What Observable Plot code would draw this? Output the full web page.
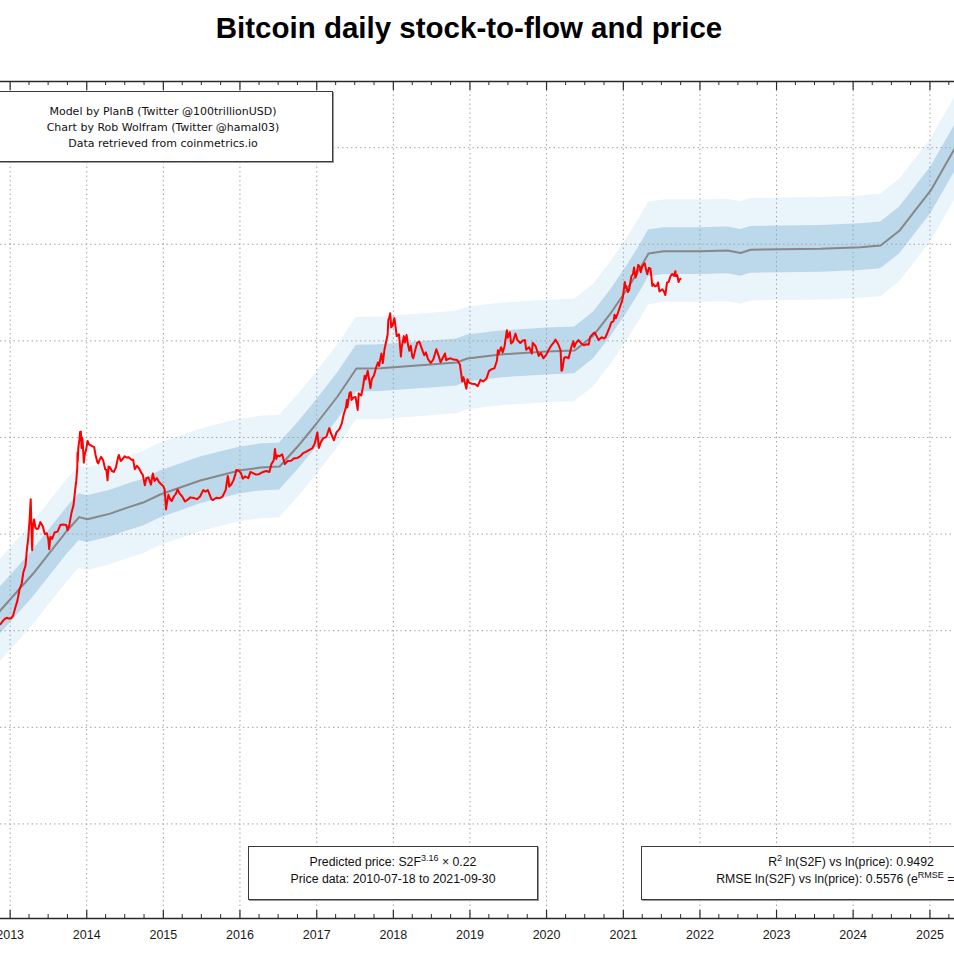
<!DOCTYPE html>
<html>
<head>
<meta charset="utf-8">
<title>Bitcoin daily stock-to-flow and price</title>
<script src="https://cdn.jsdelivr.net/npm/d3@7"></script>
<script src="https://cdn.jsdelivr.net/npm/@observablehq/plot@0.6"></script>
<style>
  html, body { margin: 0; padding: 0; background: #fff; overflow: hidden; }
  #page { position: relative; width: 954px; height: 954px; overflow: hidden; }
  #title {
    height: 56px; box-sizing: border-box; padding-top: 13px; width: 938px;
    text-align: center; font: bold 29.5px "Liberation Sans", Arial, sans-serif;
    line-height: 30px; color: #000;
  }
  .box {
    position: absolute; background: #fff; border: 1px solid #3a3a3a;
    box-shadow: 1px 1px 0 #9a9a9a; box-sizing: border-box;
    text-align: center; white-space: nowrap; color: #111;
  }
  .box sup { font-size: 9px; line-height: 0; vertical-align: 0.6em; }
  #credits { left: -7px; top: 91px; width: 340px; height: 71px; padding-top: 12px;
    font: 11px "DejaVu Sans", sans-serif; line-height: 16px; }
  #formula { left: 248px; top: 846px; width: 290px; height: 54px; padding-top: 7px;
    font: 12.3px "Liberation Sans", Arial, sans-serif; line-height: 17px; }
  #fit { left: 641px; top: 846px; width: 420px; height: 54px; padding-top: 7px;
    font: 12.3px "Liberation Sans", Arial, sans-serif; line-height: 17px; }
</style>
</head>
<body>
<div id="page">
  <div id="title">Bitcoin daily stock-to-flow and price</div>
  <div id="chart"></div>
  <div class="box" id="credits">
    Model by PlanB (Twitter @100trillionUSD)<br>
    Chart by Rob Wolfram (Twitter @hamal03)<br>
    Data retrieved from coinmetrics.io
  </div>
  <div class="box" id="formula">
    Predicted price: S2F<sup>3.16</sup> × 0.22<br>
    Price data: 2010-07-18 to 2021-09-30
  </div>
  <div class="box" id="fit">
    R<sup>2</sup> ln(S2F) vs ln(price): 0.9492<br>
    RMSE ln(S2F) vs ln(price): 0.5576 (e<sup>RMSE</sup> = 1.75)
  </div>
</div>
<script>
// Year labels on the time axis
const years = [2013, 2014, 2015, 2016, 2017, 2018, 2019, 2020, 2021, 2022, 2023, 2024, 2025];
// Horizontal grid lines, one per decade of price (USD)
const priceDecades = [0.1, 1, 10, 100, 1000, 10000, 100000, 1000000];
// Visible window of the time and price axes
const timeWindow = ["2012-11-16", "2025-04-28"];
const priceWindow = [0.0105, 4.84e6];

// Fit statistics: the inner band is model × e^(±RMSE), the outer band is wider
const RMSE = 0.5576;
const OUTER_BAND = 1.22;

// Stock-to-flow model price (USD)
const modelSeries = [
  ["2012-11-01", 14.6], ["2012-11-15", 16.2], ["2013-04-21", 39.1], ["2013-09-30", 109],
  ["2013-11-26", 150], ["2014-01-04", 142.6], ["2014-04-23", 163], ["2014-07-13", 188],
  ["2014-09-27", 212], ["2014-12-17", 257], ["2015-06-26", 359], ["2015-12-29", 455],
  ["2016-04-08", 489], ["2016-07-08", 501], ["2016-10-06", 826], ["2016-12-31", 1396],
  ["2017-04-10", 2656], ["2017-07-09", 5174], ["2017-11-01", 5212], ["2018-06-27", 5696],
  ["2018-10-29", 5975], ["2018-12-20", 6570], ["2019-05-26", 7230], ["2020-01-01", 7766],
  ["2020-05-14", 7961], ["2020-08-12", 11380], ["2020-11-01", 19230], ["2021-01-21", 34860],
  ["2021-03-24", 57500], ["2021-05-01", 80350], ["2021-07-12", 84900], ["2022-01-04", 84900],
  ["2022-05-13", 86300], ["2022-07-14", 81300], ["2022-08-30", 87700], ["2023-07-30", 89800],
  ["2024-02-05", 93300], ["2024-05-11", 97200], ["2024-08-10", 139000], ["2024-10-30", 235000],
  ["2025-01-05", 360700], ["2025-03-22", 703000], ["2025-04-29", 982000], ["2025-05-20", 1250000]
];

// Daily closing price (USD), sampled
const priceSeries = [
  ["2012-11-16", 11.7], ["2012-11-25", 12.4], ["2012-12-05", 13.2], ["2012-12-15", 13.6],
  ["2012-12-25", 13.4], ["2013-01-05", 13.4], ["2013-01-15", 14.3], ["2013-01-25", 17.2],
  ["2013-02-05", 20.6], ["2013-02-15", 27.0], ["2013-02-25", 30.8], ["2013-03-05", 40.3],
  ["2013-03-15", 47.0], ["2013-03-22", 70], ["2013-03-28", 89], ["2013-04-03", 135],
  ["2013-04-09", 230], ["2013-04-11", 160], ["2013-04-13", 98], ["2013-04-16", 68],
  ["2013-04-19", 119], ["2013-04-25", 142], ["2013-05-01", 117], ["2013-05-08", 113],
  ["2013-05-15", 114], ["2013-05-25", 133], ["2013-06-05", 121], ["2013-06-15", 100],
  ["2013-06-25", 102], ["2013-07-02", 88], ["2013-07-06", 70], ["2013-07-12", 94],
  ["2013-07-20", 89], ["2013-08-01", 104], ["2013-08-15", 106], ["2013-08-28", 124],
  ["2013-09-10", 126], ["2013-09-25", 124], ["2013-10-02", 110], ["2013-10-10", 124],
  ["2013-10-20", 165], ["2013-10-30", 200], ["2013-11-07", 290], ["2013-11-12", 355],
  ["2013-11-17", 490], ["2013-11-18", 700], ["2013-11-19", 560], ["2013-11-22", 790],
  ["2013-11-27", 950], ["2013-11-30", 1140], ["2013-12-04", 1150], ["2013-12-07", 780],
  ["2013-12-10", 1000], ["2013-12-13", 880], ["2013-12-18", 550], ["2013-12-22", 660],
  ["2013-12-29", 750], ["2014-01-05", 920], ["2014-01-12", 850], ["2014-01-20", 830],
  ["2014-01-28", 810], ["2014-02-05", 800], ["2014-02-12", 660], ["2014-02-20", 560],
  ["2014-02-25", 540], ["2014-03-02", 580], ["2014-03-10", 630], ["2014-03-20", 580],
  ["2014-03-30", 470], ["2014-04-05", 460], ["2014-04-10", 360], ["2014-04-15", 500],
  ["2014-04-22", 490], ["2014-05-01", 450], ["2014-05-10", 440], ["2014-05-20", 490],
  ["2014-05-30", 620], ["2014-06-03", 660], ["2014-06-12", 570], ["2014-06-20", 595],
  ["2014-07-01", 640], ["2014-07-10", 620], ["2014-07-20", 625], ["2014-08-01", 590],
  ["2014-08-10", 590], ["2014-08-18", 470], ["2014-08-28", 510], ["2014-09-08", 475],
  ["2014-09-18", 430], ["2014-09-25", 410], ["2014-10-05", 320], ["2014-10-12", 380],
  ["2014-10-22", 385], ["2014-11-03", 325], ["2014-11-12", 425], ["2014-11-20", 355],
  ["2014-12-01", 380], ["2014-12-10", 350], ["2014-12-20", 330], ["2014-12-31", 315],
  ["2015-01-07", 290], ["2015-01-14", 180], ["2015-01-18", 210], ["2015-01-25", 255],
  ["2015-02-02", 230], ["2015-02-10", 220], ["2015-02-20", 245], ["2015-03-01", 260],
  ["2015-03-10", 290], ["2015-03-20", 262], ["2015-04-01", 245], ["2015-04-14", 218],
  ["2015-04-25", 225], ["2015-05-10", 240], ["2015-05-25", 237], ["2015-06-10", 230],
  ["2015-06-25", 245], ["2015-07-10", 285], ["2015-07-20", 275], ["2015-08-01", 285],
  ["2015-08-18", 230], ["2015-08-25", 225], ["2015-09-10", 238], ["2015-09-25", 235],
  ["2015-10-10", 245], ["2015-10-25", 285], ["2015-11-04", 400], ["2015-11-07", 375],
  ["2015-11-11", 310], ["2015-11-20", 325], ["2015-12-01", 360], ["2015-12-10", 415],
  ["2015-12-15", 460], ["2015-12-25", 455], ["2016-01-05", 430], ["2016-01-15", 375],
  ["2016-01-25", 395], ["2016-02-10", 380], ["2016-02-20", 440], ["2016-03-01", 430],
  ["2016-03-15", 415], ["2016-04-01", 417], ["2016-04-20", 440], ["2016-05-05", 450],
  ["2016-05-20", 440], ["2016-05-30", 530], ["2016-06-10", 580], ["2016-06-16", 760],
  ["2016-06-22", 600], ["2016-06-28", 650], ["2016-07-08", 640], ["2016-07-20", 670],
  ["2016-08-02", 530], ["2016-08-15", 570], ["2016-09-01", 575], ["2016-09-15", 610],
  ["2016-10-01", 615], ["2016-10-15", 640], ["2016-10-28", 690], ["2016-11-10", 710],
  ["2016-11-25", 740], ["2016-12-10", 770], ["2016-12-22", 860], ["2017-01-04", 1130],
  ["2017-01-11", 780], ["2017-01-20", 890], ["2017-02-01", 985], ["2017-02-15", 1010],
  ["2017-03-02", 1250], ["2017-03-10", 1100], ["2017-03-24", 935], ["2017-04-05", 1130],
  ["2017-04-20", 1230], ["2017-05-01", 1420], ["2017-05-10", 1750], ["2017-05-20", 2050],
  ["2017-05-25", 2450], ["2017-05-27", 2050], ["2017-06-06", 2870], ["2017-06-12", 2950],
  ["2017-06-16", 2450], ["2017-06-25", 2600], ["2017-07-05", 2620], ["2017-07-15", 1930],
  ["2017-07-20", 2850], ["2017-08-01", 2720], ["2017-08-10", 3400], ["2017-08-17", 4350],
  ["2017-08-22", 4000], ["2017-09-01", 4900], ["2017-09-14", 3250], ["2017-09-20", 4000],
  ["2017-10-01", 4400], ["2017-10-12", 5400], ["2017-10-20", 6000], ["2017-10-25", 5500],
  ["2017-11-05", 7400], ["2017-11-12", 5900], ["2017-11-20", 8200], ["2017-11-28", 9900],
  ["2017-12-05", 11700], ["2017-12-08", 16500], ["2017-12-12", 17200], ["2017-12-17", 19300],
  ["2017-12-22", 13800], ["2017-12-28", 14400], ["2018-01-06", 17200], ["2018-01-12", 13800],
  ["2018-01-17", 11200], ["2018-01-28", 11700], ["2018-02-06", 6900], ["2018-02-10", 8600],
  ["2018-02-20", 11200], ["2018-02-25", 9600], ["2018-03-05", 11500], ["2018-03-12", 9100],
  ["2018-03-18", 7900], ["2018-03-25", 8900], ["2018-04-01", 6900], ["2018-04-06", 6600],
  ["2018-04-15", 8000], ["2018-04-25", 9600], ["2018-05-05", 9800], ["2018-05-15", 8500],
  ["2018-05-28", 7100], ["2018-06-05", 7600], ["2018-06-15", 6500], ["2018-06-28", 5900],
  ["2018-07-10", 6400], ["2018-07-25", 8200], ["2018-08-05", 7000], ["2018-08-14", 6000],
  ["2018-08-25", 6700], ["2018-09-04", 7400], ["2018-09-10", 6300], ["2018-09-20", 6500],
  ["2018-10-01", 6600], ["2018-10-15", 6400], ["2018-11-01", 6350], ["2018-11-14", 5700],
  ["2018-11-20", 4600], ["2018-11-25", 3800], ["2018-12-01", 4200], ["2018-12-15", 3200],
  ["2018-12-20", 4000], ["2018-12-28", 3700], ["2019-01-10", 3600], ["2019-01-25", 3580],
  ["2019-02-07", 3400], ["2019-02-20", 3950], ["2019-03-05", 3800], ["2019-03-20", 4050],
  ["2019-04-02", 4900], ["2019-04-15", 5100], ["2019-04-28", 5200], ["2019-05-10", 6300],
  ["2019-05-14", 8000], ["2019-05-17", 7300], ["2019-05-30", 8600], ["2019-06-06", 7600],
  ["2019-06-15", 8800], ["2019-06-26", 12900], ["2019-06-30", 10800], ["2019-07-10", 12300],
  ["2019-07-16", 9400], ["2019-07-25", 9800], ["2019-08-06", 11900], ["2019-08-15", 10200],
  ["2019-08-29", 9500], ["2019-09-10", 10100], ["2019-09-20", 10200], ["2019-09-26", 8100],
  ["2019-10-10", 8600], ["2019-10-23", 7400], ["2019-10-27", 9550], ["2019-11-10", 8800],
  ["2019-11-25", 7000], ["2019-12-05", 7500], ["2019-12-17", 6600], ["2019-12-31", 7200],
  ["2020-01-10", 8000], ["2020-01-20", 8700], ["2020-02-01", 9400], ["2020-02-13", 10300],
  ["2020-02-25", 9300], ["2020-03-08", 8000], ["2020-03-12", 4900], ["2020-03-16", 5000],
  ["2020-03-25", 6700], ["2020-04-05", 6800], ["2020-04-15", 6600], ["2020-04-29", 8800],
  ["2020-05-08", 9900], ["2020-05-12", 8600], ["2020-05-20", 9500], ["2020-06-01", 10200],
  ["2020-06-15", 9400], ["2020-06-27", 9000], ["2020-07-10", 9250], ["2020-07-20", 9150],
  ["2020-07-27", 11000], ["2020-08-10", 11900], ["2020-08-17", 12200], ["2020-08-25", 11400],
  ["2020-09-05", 10200], ["2020-09-20", 10900], ["2020-10-01", 10600], ["2020-10-08", 10900],
  ["2020-10-21", 12800], ["2020-10-27", 13700], ["2020-11-05", 15600], ["2020-11-15", 15900],
  ["2020-11-20", 18600], ["2020-11-26", 17100], ["2020-12-05", 19100], ["2020-12-17", 22900],
  ["2020-12-27", 26300], ["2021-01-02", 32200], ["2021-01-08", 40600], ["2021-01-11", 35500],
  ["2021-01-15", 36800], ["2021-01-22", 32000], ["2021-01-28", 33400], ["2021-02-08", 46400],
  ["2021-02-16", 49200], ["2021-02-21", 57500], ["2021-02-28", 45200], ["2021-03-05", 48800],
  ["2021-03-13", 61200], ["2021-03-20", 58300], ["2021-03-25", 51300], ["2021-04-01", 59000],
  ["2021-04-13", 63500], ["2021-04-18", 56200], ["2021-04-25", 49000], ["2021-05-03", 57000],
  ["2021-05-10", 56000], ["2021-05-13", 49700], ["2021-05-19", 37000], ["2021-05-24", 38700],
  ["2021-06-01", 36700], ["2021-06-10", 37300], ["2021-06-15", 40200], ["2021-06-22", 32500],
  ["2021-07-01", 33600], ["2021-07-06", 34200], ["2021-07-15", 31800], ["2021-07-20", 29800],
  ["2021-07-28", 40000], ["2021-08-05", 40800], ["2021-08-14", 47000], ["2021-08-22", 49300],
  ["2021-08-30", 47000], ["2021-09-06", 52700], ["2021-09-08", 46800], ["2021-09-15", 48000],
  ["2021-09-21", 40700], ["2021-09-26", 43200], ["2021-09-30", 43800]
];

const model = modelSeries.map(([d, v]) => ({date: new Date(d), value: v}));
const prices = priceSeries.map(([d, v]) => ({date: new Date(d), value: v}));
const yearDates = years.map(y => new Date(Date.UTC(y, 0, 1)));
const quarterDates = d3.utcMonth.every(3)
  .range(new Date(Date.UTC(2012, 9, 1)), new Date(Date.UTC(2025, 9, 1)))
  .filter(d => d.getUTCMonth() !== 0);

const W = 954, H = 898, MT = 25, MB = 36;
const frameH = H - MT - MB;
const axisColor = "#2a2a2a";
const gridStyle = {stroke: "#a4a4a4", strokeWidth: 1, strokeDasharray: "1.5,3"};

const chart = Plot.plot({
  width: W, height: H,
  marginLeft: 0, marginRight: 0, marginTop: MT, marginBottom: MB,
  x: {type: "utc", domain: timeWindow.map(d => new Date(d)), axis: null},
  y: {type: "log", domain: priceWindow, axis: null},
  style: {fontFamily: "'Liberation Sans', Arial, sans-serif", fontSize: "12.5px", color: "#111", background: "#fff", overflow: "hidden"},
  marks: [
    // ±outer and ±RMSE bands around the model
    Plot.areaY(model, {x: "date", y1: d => d.value * Math.exp(-OUTER_BAND), y2: d => d.value * Math.exp(OUTER_BAND), fill: "#eaf4fb", clip: true}),
    Plot.areaY(model, {x: "date", y1: d => d.value * Math.exp(-RMSE), y2: d => d.value * Math.exp(RMSE), fill: "#bcd8eb", clip: true}),
    // dotted grid
    Plot.ruleX(yearDates, gridStyle),
    Plot.ruleY(priceDecades, gridStyle),
    // model and price
    Plot.line(model, {x: "date", y: "value", stroke: "#878787", strokeWidth: 2, clip: true}),
    Plot.line(prices, {x: "date", y: "value", stroke: "#ff0000", strokeWidth: 2, clip: true}),
    // top and bottom axis lines
    Plot.ruleY([priceWindow[0]], {stroke: axisColor, strokeWidth: 1.5}),
    Plot.ruleY([priceWindow[1]], {stroke: axisColor, strokeWidth: 1.5}),
    // inward ticks: years (long) and quarters (short), on both axes
    Plot.ruleX(yearDates, {insetTop: frameH - 8, stroke: axisColor, strokeWidth: 1.2}),
    Plot.ruleX(yearDates, {insetBottom: frameH - 9, stroke: axisColor, strokeWidth: 1.2}),
    Plot.ruleX(quarterDates, {insetTop: frameH - 4, stroke: axisColor, strokeWidth: 1}),
    Plot.ruleX(quarterDates, {insetBottom: frameH - 4, stroke: axisColor, strokeWidth: 1}),
    // year labels
    Plot.text(yearDates, {x: d => d, frameAnchor: "bottom", dy: 20, text: d => String(d.getUTCFullYear()), fill: "#1a1a1a", fontSize: 12.5})
  ]
});

document.getElementById("chart").append(chart);
</script>
</body>
</html>
